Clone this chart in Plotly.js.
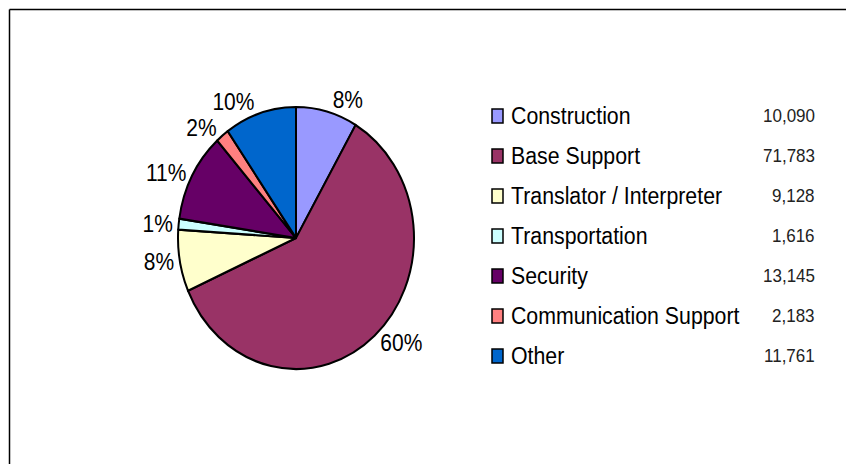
<!DOCTYPE html>
<html>
<head>
<meta charset="utf-8">
<script src="https://cdn.plot.ly/plotly-3.0.1.min.js"></script>
<style>
  html, body { margin: 0; padding: 0; background: #fff; overflow: hidden; }
  #wrap { width: 846px; height: 464px; overflow: hidden; }
  #chart { width: 846px; height: 418px; transform: scaleY(1.110048); transform-origin: 0 0; }
</style>
</head>
<body>
<div id="wrap"><div id="chart"></div></div>
<script>
// Data
const categories = ["Construction", "Base Support", "Translator / Interpreter", "Transportation", "Security", "Communication Support", "Other"];
const values = [10090, 71783, 9128, 1616, 13145, 2183, 11761];
const valueLabels = ["10,090", "71,783", "9,128", "1,616", "13,145", "2,183", "11,761"];
const colors = ["#9999FF", "#993366", "#FFFFCC", "#CCFFFF", "#660066", "#FF8080", "#0066CC"];

const W = 846, REFH = 464;
const font = "Liberation Sans, Arial, sans-serif";

const trace = {
  type: "pie",
  labels: categories,
  values: values,
  sort: false,
  direction: "clockwise",
  rotation: 0,
  marker: { colors: colors, line: { color: "#000", width: 2 } },
  texttemplate: "%{percent:.0%}",
  textposition: "outside",
  textfont: { family: font, size: 21, color: "#000" },
  hoverinfo: "none",
  showlegend: false,
  domain: { x: [(296 - 118) / W, (296 + 118) / W], y: [1 - (238 + 118 * 1.110048) / REFH, 1 - (238 - 118 * 1.110048) / REFH] }
};

const shapes = [
  { type: "line", xref: "paper", yref: "paper", x0: 9.5 / W, x1: 1, y0: 1 - 9.5 / REFH, y1: 1 - 9.5 / REFH, line: { color: "#000", width: 1.5 } },
  { type: "line", xref: "paper", yref: "paper", x0: 9.5 / W, x1: 9.5 / W, y0: 0, y1: 1 - 9.5 / REFH, line: { color: "#000", width: 1.5 } }
];
const annotations = [];
const rowTop = 116, rowStep = 40;
categories.forEach((c, i) => {
  const yc = rowTop + i * rowStep;
  shapes.push({
    type: "rect", xref: "paper", yref: "paper",
    x0: 492 / W, x1: 503 / W, y0: 1 - (yc + 7) / REFH, y1: 1 - (yc - 7) / REFH,
    fillcolor: colors[i], line: { color: "#000", width: 1.5 }
  });
  annotations.push({
    xref: "paper", yref: "paper", x: 509 / W, y: 1 - yc / REFH,
    xanchor: "left", yanchor: "middle", showarrow: false, text: c,
    font: { family: font, size: 21.3, color: "#000" }
  });
  annotations.push({
    xref: "paper", yref: "paper", x: 817 / W, y: 1 - yc / REFH,
    xanchor: "right", yanchor: "middle", showarrow: false, text: valueLabels[i],
    font: { family: font, size: 17, color: "#222" }
  });
});

const layout = {
  width: 846, height: 418,
  margin: { l: 0, r: 0, t: 0, b: 0 },
  paper_bgcolor: "#fff",
  showlegend: false,
  shapes: shapes,
  annotations: annotations
};

Plotly.newPlot("chart", [trace], layout, { staticPlot: true, displayModeBar: false });
</script>
</body>
</html>
